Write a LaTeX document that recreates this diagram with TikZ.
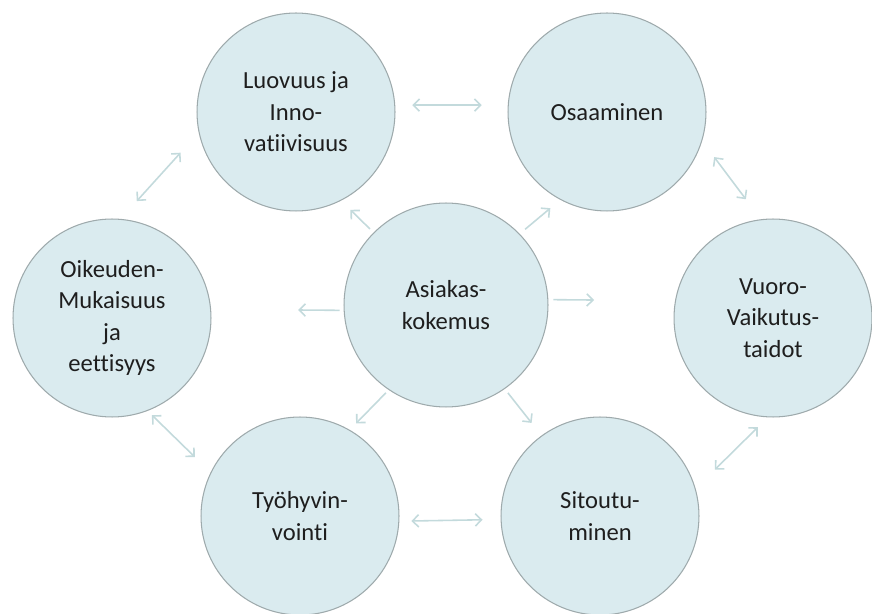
\documentclass[tikz,border=0pt]{standalone}
\usepackage{fontspec}
\setmainfont{Carlito}[Ligatures=NoCommon]
\usepackage{tikz}
\usetikzlibrary{arrows.meta}
\definecolor{bubblefill}{HTML}{DAEBEF}
\definecolor{bubbleedge}{HTML}{9EAAAC}
\definecolor{linkc}{HTML}{C3DADC}
\definecolor{ink}{HTML}{1E1E1E}
\tikzset{
  bubble/.style={circle, draw=bubbleedge, fill=bubblefill, line width=0.6pt, minimum size=3.96cm, inner sep=0pt, align=center, text=ink, font=\fontsize{14}{18}\selectfont},
  hub/.style={bubble, minimum size=4.08cm},
  link/.style={draw=linkc, line width=0.9pt, {Straight Barb[length=3.5pt,width=7pt]}-{Straight Barb[length=3.5pt,width=7pt]}},
  spoke/.style={draw=linkc, line width=0.9pt, -{Straight Barb[length=3.5pt,width=7pt]}}
}

\begin{document}
\begin{tikzpicture}[x=0.02cm, y=-0.02cm]
  \useasboundingbox (0,0) rectangle (872,614);

  \node[hub] (asiakas) at (446,305) {Asiakas-\\kokemus};
  \node[bubble] (luovuus) at (296,112) {Luovuus ja\\Inno-\\vatiivisuus};
  \node[bubble] (osaaminen) at (607,112) {Osaaminen};
  \node[bubble] (oikeus) at (112,318) {Oikeuden-\\Mukaisuus\\ja\\eettisyys};
  \node[bubble] (vuoro) at (773,318) {Vuoro-\\Vaikutus-\\taidot};
  \node[bubble] (tyo) at (300,516) {Työhyvin-\\vointi};
  \node[bubble] (sitoutuminen) at (600,516) {Sitoutu-\\minen};

  % ring of two-way links
  \draw[link, shorten <=0.34cm, shorten >=0.52cm] (luovuus.4) -- (osaaminen.176);
  \draw[link, shorten <=0.4cm, shorten >=0.5cm] (osaaminen.343) -- (vuoro.97);
  \draw[link, shorten <=0.54cm, shorten >=0.48cm] (luovuus.192) -- (oikeus.85);
  \draw[link, shorten <=0.12cm, shorten >=0.44cm] (oikeus.291) -- (tyo.154);
  \draw[link, shorten <=0.24cm, shorten >=0.36cm] (tyo.357) -- (sitoutuminen.182);
  \draw[link, shorten <=0.54cm, shorten >=0.28cm] (sitoutuminen.16) -- (vuoro.267);

  % spokes out of the hub
  \draw[spoke, shorten <=0.08cm, shorten >=1.74cm] (asiakas.183) -- (oikeus.5);
  \draw[spoke, shorten <=0.1cm, shorten >=1.62cm] (asiakas.3) -- (vuoro.170);
  \draw[spoke, shorten <=0.1cm, shorten >=0.26cm] (asiakas.135) -- (luovuus.297);
  \draw[spoke, shorten <=0.14cm, shorten >=0.26cm] (asiakas.44) -- (osaaminen.242);
  \draw[spoke, shorten <=0.08cm, shorten >=0.18cm] (asiakas.236) -- (tyo.60);
  \draw[spoke, shorten <=0.1cm, shorten >=0.32cm] (asiakas.305) -- (sitoutuminen.126);
\end{tikzpicture}
\end{document}
